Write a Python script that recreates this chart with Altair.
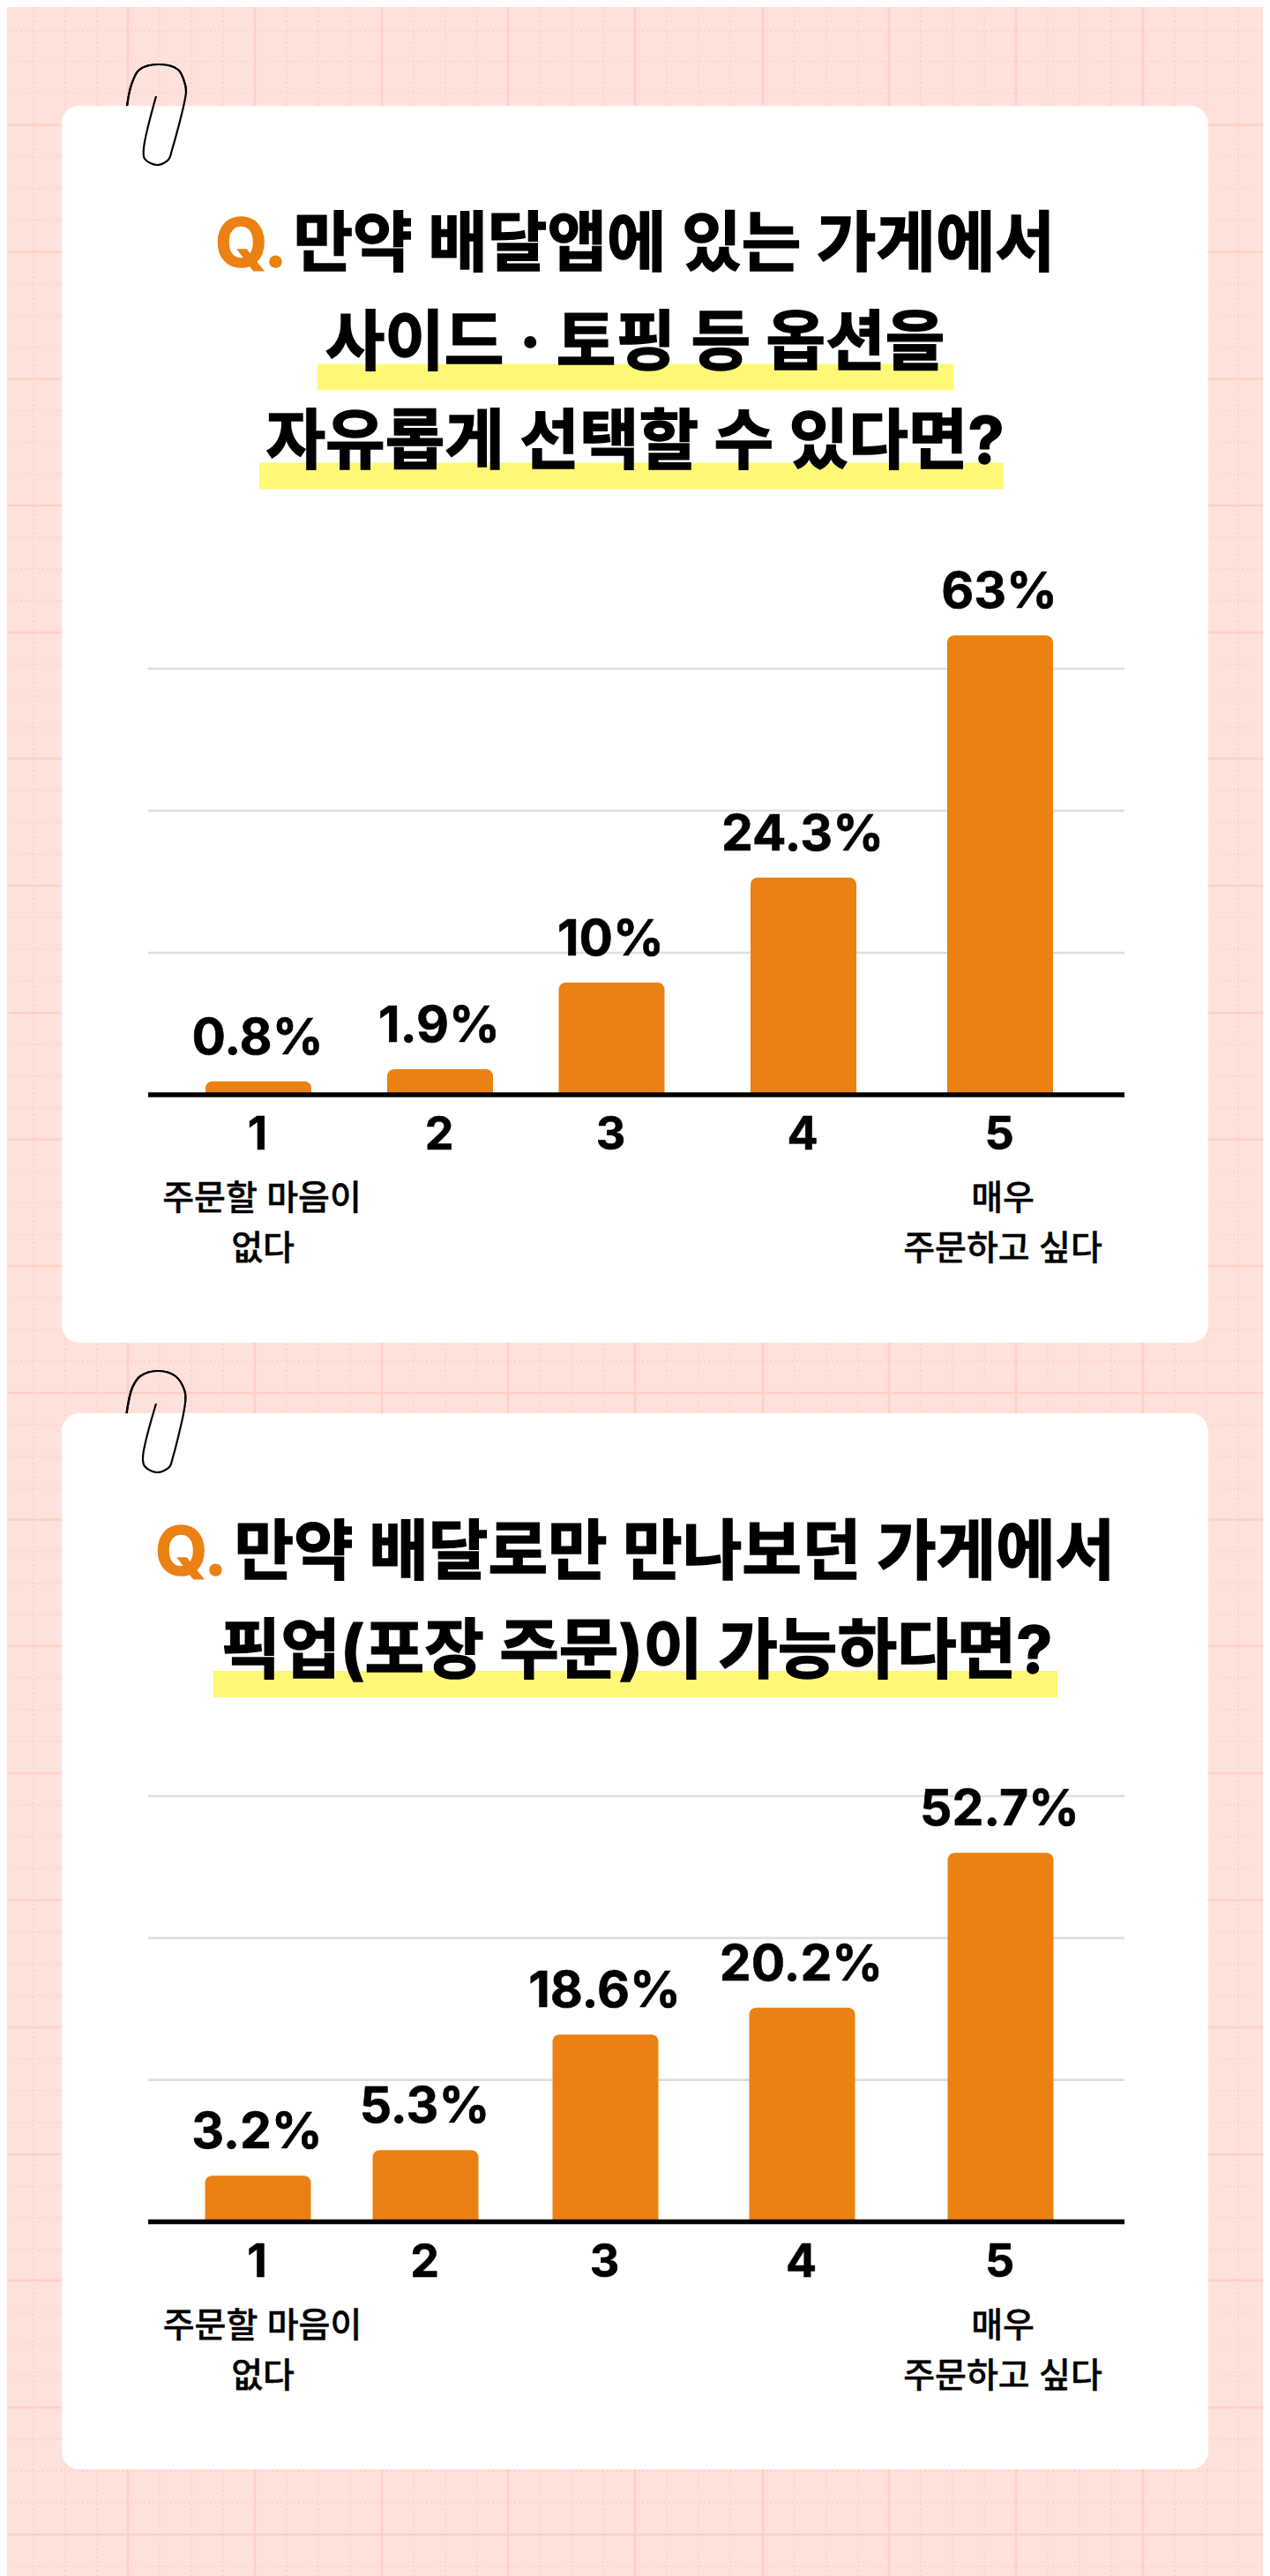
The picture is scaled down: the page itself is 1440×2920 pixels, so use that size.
import altair as alt
import pandas as pd

# ---------- data ----------
ratings = [1, 2, 3, 4, 5]
labels_a = ["0.8%", "1.9%", "10%", "24.3%", "63%"]
labels_b = ["3.2%", "5.3%", "18.6%", "20.2%", "52.7%"]
# bar heights, on the gridline scale (lines at 20/40/60)
heights_a = [1.9, 3.6, 15.8, 30.6, 64.7]
heights_b = [6.5, 10.1, 26.4, 30.2, 52.0]
grid_values = [20, 40, 60]
centers_a = [293, 499, 693.5, 911, 1134]
centers_b = [292.5, 482.5, 686.5, 909.5, 1134.5]

title_a = ["만약 배달앱에 있는 가게에서", "사이드 · 토핑 등 옵션을", "자유롭게 선택할 수 있다면?"]
title_b = ["만약 배달로만 만나보던 가게에서", "픽업(포장 주문)이 가능하다면?"]
low_label = ["주문할 마음이", "없다"]
high_label = ["매우", "주문하고 싶다"]

major_v = [2, 145, 289, 433, 576, 720, 865, 1008, 1152, 1296, 1439]
major_h = [141.5, 285.5, 429.5, 573, 717, 860, 1004, 1148, 1291.5, 1435, 1579, 1722.5,
           1866, 2010, 2154, 2298, 2442, 2585, 2729, 2873]
minor_v = [x + d for x in major_v[:-1] for d in (36, 72, 108)]
minor_h = [35] + [70] + [105.5] + [y + d for y in major_h for d in (36, 72, 108)]

clip_a_x = [177, 163, 164, 178, 191, 195, 211, 210, 202, 180, 158, 149, 144]
clip_a_y = [109, 168, 180, 187, 181, 170, 104, 96, 79, 73, 79, 96, 120]
clip_b_x = [177, 162, 164, 178, 192, 196, 210, 209.5, 199, 179, 159, 150, 143.5]
clip_b_y = [1591, 1652, 1662, 1669, 1663, 1652, 1590, 1577, 1560, 1554, 1560, 1573, 1602]

# ---------- style ----------
W, H = 1424, 2912
BG, MAJOR, MINOR = "#FFE1DB", "#FFCFC5", "#FFD3CA"
ORANGE, YELLOW, GRID = "#EB8113", "#FFF876", "#DEDEDE"
KR = "Inter, Noto Sans CJK KR"
NUM = "Inter"
# the page margin shifts the drawing by 8px: scales work in picture pixels
PX = alt.Scale(domain=[8, 8 + W], range=[0, W], nice=False, zero=False)
PY = alt.Scale(domain=[8, 8 + H], range=[0, H], nice=False, zero=False)


def X(f="x"):
    return alt.X(f"{f}:Q", scale=PX, axis=None, title=None)


def Y(f="y"):
    return alt.Y(f"{f}:Q", scale=PY, axis=None, title=None)


def boxes(rows, color, **kw):
    d = pd.DataFrame(rows, columns=["x", "x2", "y", "y2"])
    return alt.Chart(d).mark_rect(color=color, **kw).encode(
        x=X(), x2="x2:Q", y=Y(), y2="y2:Q"
    )


def vlines(xs, color, width, **kw):
    d = pd.DataFrame({"x": [v for v in xs if v < 8 + W]})
    return alt.Chart(d).mark_rule(color=color, strokeWidth=width, **kw).encode(
        x=X(), y=alt.value(0), y2=alt.value(H)
    )


def hlines(ys, color, width, **kw):
    d = pd.DataFrame({"y": ys})
    return alt.Chart(d).mark_rule(color=color, strokeWidth=width, **kw).encode(
        y=Y(), x=alt.value(0), x2=alt.value(W)
    )


def text(rows, size, weight=700, font=KR, color="#000000", align="center", bold=0.0):
    d = pd.DataFrame(rows, columns=["x", "y", "t"])
    extra = {"stroke": color, "strokeWidth": bold} if bold else {}
    return alt.Chart(d).mark_text(
        fontSize=size, fontWeight=weight, font=font, color=color,
        align=align, baseline="middle", **extra,
    ).encode(x=X(), y=Y(), text="t:N")


def clip(xs, ys):
    d = pd.DataFrame({"x": xs, "y": ys, "o": range(len(xs))})
    return alt.Chart(d).mark_line(
        color="#000000", strokeWidth=2.2, interpolate="catmull-rom"
    ).encode(x=X(), y=Y(), order="o:Q")


def panel(values, labels, centers, base, top, left=168, right=1275):
    """Bars, gridlines, axis and labels of one chart."""
    d = pd.DataFrame({"r": ratings, "v": values, "l": labels})
    sx = alt.Scale(domain=ratings, range=[c - 8 for c in centers],
                   nice=False, zero=False, padding=0)
    sy = alt.Scale(domain=[0, 60], range=[base - 8, top - 8], nice=False, zero=False)
    xe = alt.X("r:Q", scale=sx, axis=None, title=None)
    ye = alt.Y("v:Q", scale=sy, axis=None, title=None, stack=None)
    grid = alt.Chart(pd.DataFrame({"g": grid_values})).mark_rule(
        color=GRID, strokeWidth=2.6
    ).encode(
        y=alt.Y("g:Q", scale=sy, axis=None, title=None),
        x=alt.value(left - 8), x2=alt.value(right - 8),
    )
    bars = alt.Chart(d).mark_bar(
        color=ORANGE, size=120, orient="vertical",
        cornerRadiusTopLeft=8, cornerRadiusTopRight=8,
    ).encode(x=xe, y=ye)
    vals = alt.Chart(d).mark_text(
        fontSize=57, fontWeight=700, font=NUM, color="#000000",
        stroke="#000000", strokeWidth=0.6,
        baseline="middle", dy=-48, dx=-1,
    ).encode(x=xe, y=ye, text="l:N")
    axis_line = alt.Chart(pd.DataFrame({"g": [0]})).mark_rule(
        color="#000000", strokeWidth=5.5
    ).encode(
        y=alt.Y("g:Q", scale=sy, axis=None, title=None),
        x=alt.value(left - 8), x2=alt.value(right - 8),
    )
    ticks = alt.Chart(d).mark_text(
        fontSize=52, fontWeight=700, font=NUM, color="#000000",
        stroke="#000000", strokeWidth=0.6,
        baseline="middle", dy=46, dx=-1,
    ).encode(
        x=xe,
        y=alt.datum(0, scale=sy, axis=None, title=None),
        text="r:N",
    )
    return [grid, bars, axis_line, vals, ticks]


layers = [
    boxes([[8, 8 + W, 8, 8 + H]], BG),
    vlines(minor_v, MINOR, 2, strokeDash=[2, 3]),
    hlines(minor_h, MINOR, 2, strokeDash=[2, 3]),
    vlines(major_v, MAJOR, 2.5),
    hlines(major_h, MAJOR, 2.5),
    clip(clip_a_x[6:], clip_a_y[6:]),
    clip(clip_b_x[6:], clip_b_y[6:]),
    boxes([[70, 1370, 120, 1522], [70, 1370, 1602, 2799]], "#FFFFFF", cornerRadius=20),
    clip(clip_a_x, clip_a_y),
    clip(clip_b_x, clip_b_y),
    boxes([[360, 1081, 412.5, 442.5], [294, 1138, 524.5, 554.5], [242, 1199, 1894, 1924]], YELLOW),
    text([[244, 279, "Q."], [176, 1762, "Q."]], 76, color=ORANGE, align="left", bold=1.5),
    text([[332.5, 279, title_a[0]], [265.5, 1762, title_b[0]]], 73.5, align="left", bold=1.5),
    text([[720, 391, title_a[1]], [720, 503, title_a[2]], [722, 1874, title_b[1]]], 73.5, bold=1.5),
    text([
        [297, 1359, low_label[0]], [298, 1416, low_label[1]],
        [1137, 1359, high_label[0]], [1137, 1416, high_label[1]],
        [297.5, 2637, low_label[0]], [298, 2694, low_label[1]],
        [1137, 2637, high_label[0]], [1137, 2694, high_label[1]],
    ], 39, weight=500, bold=0.4),
]
layers += panel(heights_a, labels_a, centers_a, 1241, 758)
layers += panel(heights_b, labels_b, centers_b, 2518.5, 2036)

chart = alt.layer(*layers).resolve_scale(x="independent", y="independent").properties(
    width=W, height=H, padding=0,
    autosize=alt.AutoSizeParams(type="none"),
    background=BG,
).configure_view(stroke=None)

chart.save("out.html", embed_options={"renderer": "svg", "actions": False})
